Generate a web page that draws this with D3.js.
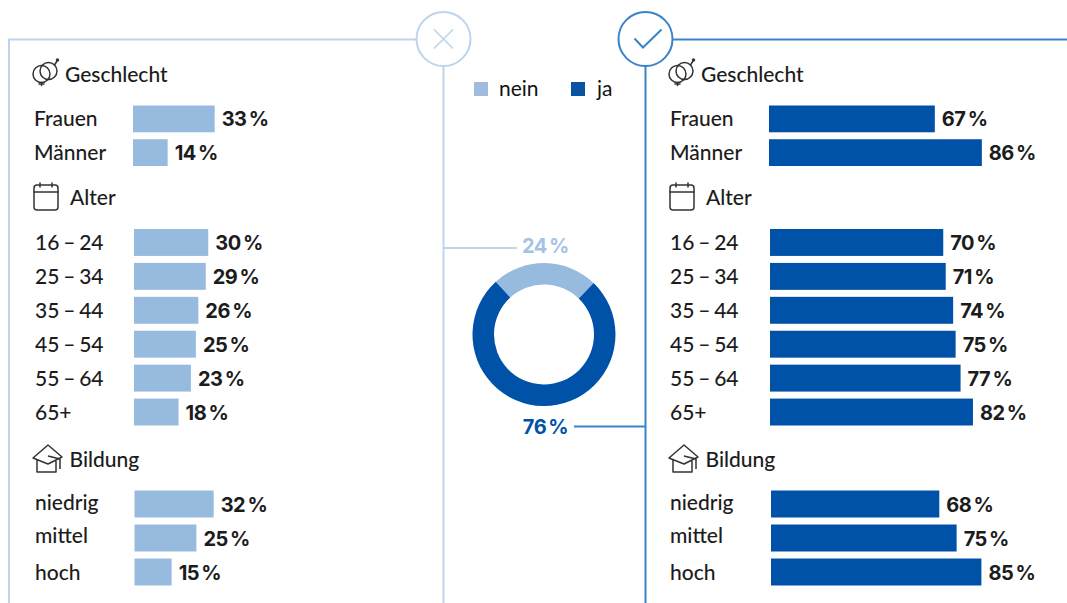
<!DOCTYPE html>
<html><head><meta charset="utf-8">
<script src="https://cdn.jsdelivr.net/npm/d3@7/dist/d3.min.js"></script>
<style>html,body{margin:0;padding:0;background:#fff}svg{display:block}</style>
</head><body><svg id="c" width="1067" height="603"></svg>
<script>
const genderCats=["Frauen","Männer"];
const ageCats=["16 – 24","25 – 34","35 – 44","45 – 54","55 – 64","65+"];
const eduCats=["niedrig","mittel","hoch"];
const neinGender=[33,14];
const neinAge=[30,29,26,25,23,18];
const neinEdu=[32,25,15];
const jaGender=[67,86];
const jaAge=[70,71,74,75,77,82];
const jaEdu=[68,75,85];
const totalLabels=["nein","ja"];
const totalValues=[24,76];

const LIGHT="#97bbdf",DARK="#0051a8",LINE_L="#bdd5ec",LINE_D="#3a83c9",INK="#1c1c1c";
const labelFont="Lato, sans-serif",valFont="Inter, sans-serif";
const svg=d3.select("#c");
const x=d3.scaleLinear().domain([0,100]).range([0,247.5]);

function frame(){
  const g=svg.append("g").attr("fill","none").attr("stroke-width",2);
  g.append("path").attr("d","M9 603V39.5H416M443.5 66V603").attr("stroke",LINE_L);
  g.append("circle").attr("cx",443.5).attr("cy",39).attr("r",27).attr("stroke",LINE_L);
  g.append("path").attr("d","M434 29.5L453 48.5M453 29.5L434 48.5").attr("stroke",LINE_L).attr("stroke-width",1.6);
  g.append("path").attr("d","M673 39.5H1067M645.5 66V603").attr("stroke",LINE_D);
  g.append("circle").attr("cx",645.5).attr("cy",39).attr("r",27).attr("stroke",LINE_D);
  g.append("path").attr("d","M634.5 38.5L643 47.5L661.5 29.5").attr("stroke",LINE_D).attr("stroke-width",2);
  g.append("path").attr("d","M444 248H517").attr("stroke",LINE_L);
  g.append("path").attr("d","M574 426.5H645").attr("stroke",LINE_D);
}
function iconGender(g){
  const s=g.append("g").attr("fill","none").attr("stroke","#333").attr("stroke-width",1.5).attr("stroke-linecap","round");
  s.append("circle").attr("cx",9.5).attr("cy",1).attr("r",8.5);
  s.append("circle").attr("cx",16.5).attr("cy",-2).attr("r",8.5);
  s.append("path").attr("d","M9.5 9.5V12.5M7 11H12M22.5 -8L25 -12");
  s.append("circle").attr("cx",25.5).attr("cy",-13).attr("r",1).attr("fill","#333");
}
function iconCal(g){
  const s=g.append("g").attr("fill","none").attr("stroke","#333").attr("stroke-width",1.5).attr("stroke-linecap","round");
  s.append("rect").attr("x",1).attr("y",-12).attr("width",24).attr("height",25).attr("rx",3);
  s.append("path").attr("d","M1 -5H25M7 -14V-10M19 -14V-10");
}
function iconEdu(g){
  const s=g.append("g").attr("fill","none").attr("stroke","#333").attr("stroke-width",1.5).attr("stroke-linejoin","round");
  s.append("path").attr("d","M1 -1L16 -14L30 -2L16 5Z M5 1V13H24V2 M16 -3L28 0V10");
}
function heading(x0,y,txt,icon,tx,ty){
  icon(svg.append("g").attr("transform",`translate(${x0},${y})`));
  svg.append("text").attr("x",tx).attr("y",ty).attr("font-family",labelFont).attr("font-weight",500)
    .attr("font-size",21).attr("fill",INK).text(txt);
}
function rows(cats,vals,labelX,barX,yTop,yBottom,col,nudge){
  const y=d3.scaleBand().domain(cats).range([yTop,yBottom]).paddingInner(7/34).paddingOuter(0);
  const g=svg.append("g");
  cats.forEach((c,i)=>{
    const yy=y(c),h=y.bandwidth(),v=vals[i],n=nudge?nudge[i]:0;
    g.append("text").attr("x",labelX).attr("y",yy+h/2+7.5+n).attr("font-family",labelFont).attr("font-weight",500)
      .attr("font-size",21).attr("word-spacing",-1.5).attr("fill",INK).text(c);
    g.append("rect").attr("x",barX).attr("y",yy).attr("width",x(v)).attr("height",h).attr("fill",col);
    g.append("text").attr("x",barX+x(v)+7).attr("y",yy+h/2+7.5).attr("font-family",valFont)
      .attr("font-weight",700).attr("font-size",20).attr("letter-spacing",-0.5).attr("word-spacing",-2).attr("fill",INK).text(v+" %");
  });
}
frame();
const eduNudge=[-1.5,-2.5,0];
heading(32,73,"Geschlecht",iconGender,65,82);
heading(33,197,"Alter",iconCal,70,205);
heading(32,459,"Bildung",iconEdu,69.5,467);
rows(genderCats,neinGender,34,133,105.5,166,LIGHT);
rows(ageCats,neinAge,35,134,229,425.5,LIGHT);
rows(eduCats,neinEdu,35,134.5,490.5,585.5,LIGHT,eduNudge);
heading(668,73,"Geschlecht",iconGender,701,82);
heading(669,197,"Alter",iconCal,706,205);
heading(668,459,"Bildung",iconEdu,705.5,467);
rows(genderCats,jaGender,670,769,105.5,166,DARK);
rows(ageCats,jaAge,670,770,229,425.5,DARK);
rows(eduCats,jaEdu,670,771,490.5,585.5,DARK,eduNudge);

const legendCols=["#a0bcdc","#0a52a3"];
[474,571].forEach((lx,i)=>{
  svg.append("rect").attr("x",lx).attr("y",82).attr("width",14).attr("height",14).attr("fill",legendCols[i]);
  svg.append("text").attr("x",[499,597][i]).attr("y",96).attr("font-family",labelFont).attr("font-size",21).attr("fill","#111").text(totalLabels[i]);
});
const pie=d3.pie().sort(null).startAngle(-0.74).endAngle(-0.74+2*Math.PI);
const arc=d3.arc().innerRadius(50).outerRadius(71.5);
svg.append("g").attr("transform","translate(544,334.5)").selectAll("path").data(pie(totalValues)).join("path")
  .attr("d",arc).attr("fill",(d,i)=>[LIGHT,DARK][i]);
[[253,"#a3c3e4",0],[433.5,DARK,1]].forEach(([ty,col,i])=>{
  svg.append("text").attr("x",545.5).attr("y",ty).attr("text-anchor","middle").attr("font-family",valFont)
    .attr("font-weight",700).attr("font-size",20).attr("letter-spacing",-0.5).attr("word-spacing",-2).attr("fill",col).text(totalValues[i]+" %");
});
</script></body></html>
